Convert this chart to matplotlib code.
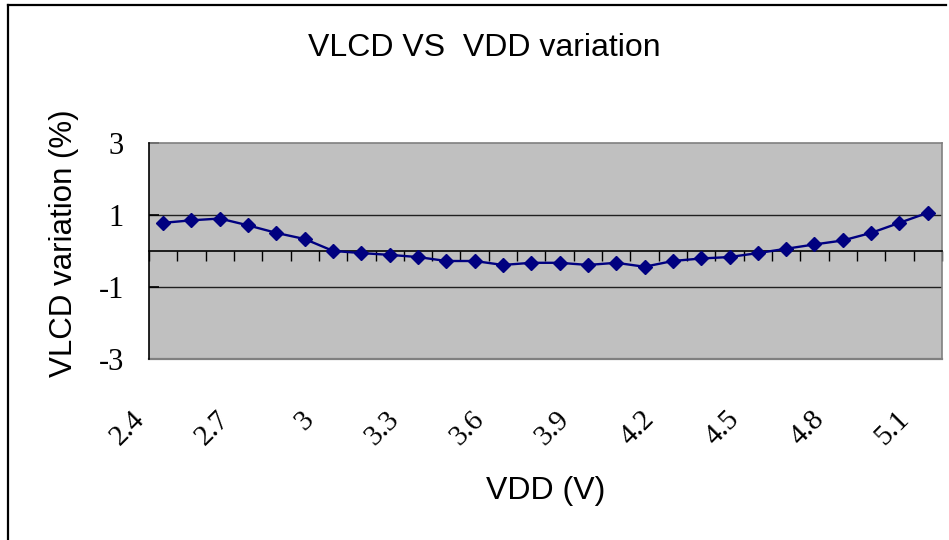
import matplotlib
matplotlib.use("Agg")
import matplotlib.pyplot as plt
from matplotlib.lines import Line2D
from matplotlib.transforms import ScaledTranslation
from matplotlib.ticker import FixedLocator

# VDD categories (V) and measured VLCD variation (%)
vdd = [2.4, 2.5, 2.6, 2.7, 2.8, 2.9, 3.0, 3.1, 3.2, 3.3,
       3.4, 3.5, 3.6, 3.7, 3.8, 3.9, 4.0, 4.1, 4.2, 4.3,
       4.4, 4.5, 4.6, 4.7, 4.8, 4.9, 5.0, 5.1]
vlcd_var = [0.77, 0.84, 0.89, 0.70, 0.49, 0.32, -0.01, -0.07, -0.12, -0.18,
            -0.29, -0.29, -0.40, -0.34, -0.34, -0.40, -0.34, -0.45, -0.29, -0.22,
            -0.18, -0.07, 0.05, 0.17, 0.28, 0.49, 0.77, 1.05]
shown_labels = ["2.4", "2.7", "3", "3.3", "3.6", "3.9", "4.2", "4.5", "4.8", "5.1"]
y_ticks = [-3, -1, 1, 3]

sans = "Liberation Sans"
serif = "Liberation Serif"

fig = plt.figure(figsize=(9.49, 5.40), dpi=100)
ax = fig.add_axes([0.157, 0.336, 0.8355, 0.40])
ax.set_facecolor("#c0c0c0")

idx = list(range(len(vdd)))
ax.plot(idx, vlcd_var, color="#000080", lw=1.7, marker="D", ms=7,
        mec="#000080", mfc="#000080", zorder=5)

ax.set_xlim(-0.5, len(vdd) - 0.5)
ax.set_ylim(-3, 3)

# grid lines at the inner major ticks
for yv in y_ticks[1:-1]:
    ax.axhline(yv, color="#202020", lw=1.0, zorder=1)

# plot area frame
for s in ["top", "right"]:
    ax.spines[s].set_color("#808080")
    ax.spines[s].set_linewidth(1.2)
ax.spines["left"].set_color("black")
ax.spines["left"].set_linewidth(1.2)
ax.spines["left"].set_zorder(3)

# category axis crosses at zero, the frame bottom is drawn separately
ax.spines["bottom"].set_position(("data", 0))
ax.spines["bottom"].set_color("black")
ax.spines["bottom"].set_linewidth(1.2)
ax.axhline(-3, color="#808080", lw=1.6, zorder=2, clip_on=False)
ax.xaxis.set_major_locator(FixedLocator([]))
ax.xaxis.set_minor_locator(FixedLocator([i - 0.5 for i in range(len(vdd) + 1)]))
ax.tick_params(axis="x", which="minor", direction="out", length=7.5,
               width=1.0, color="black")

ax.set_yticks(y_ticks)
ax.set_yticklabels([str(v) for v in y_ticks], fontfamily=serif, fontsize=22)
ax.tick_params(axis="y", direction="in", length=7.5, width=1.2,
               color="black", pad=18)

# rotated category labels, every third category
shift = ScaledTranslation(-0.23, -0.57, fig.dpi_scale_trans)
for i, v in enumerate(vdd):
    lab = "%g" % v
    if lab in shown_labels:
        ax.text(i, 0, lab, transform=ax.get_xaxis_transform() + shift,
                rotation=45, ha="right", va="center", rotation_mode="anchor",
                fontfamily=serif, fontsize=21)

ax.set_xlabel("VDD (V)", fontfamily=sans, fontsize=23, va="center")
ax.xaxis.set_label_coords(0.5, -0.613)
ax.set_ylabel("VLCD variation (%)", fontfamily=sans, fontsize=22.5, va="center")
ax.yaxis.set_label_coords(-0.107, 0.535)

fig.text(484 / 949, 1 - 48 / 540, "VLCD VS  VDD variation",
         fontfamily=sans, fontsize=23, ha="center", va="center")

# chart border (top and left edges visible)
fig.add_artist(Line2D([7.5 / 949, 946 / 949], [1 - 5 / 540, 1 - 5 / 540],
                      transform=fig.transFigure, color="black", lw=1.6))
fig.add_artist(Line2D([7.5 / 949, 7.5 / 949], [1 - 5 / 540, 0],
                      transform=fig.transFigure, color="black", lw=1.6))

fig.savefig("out.png", dpi=100)
